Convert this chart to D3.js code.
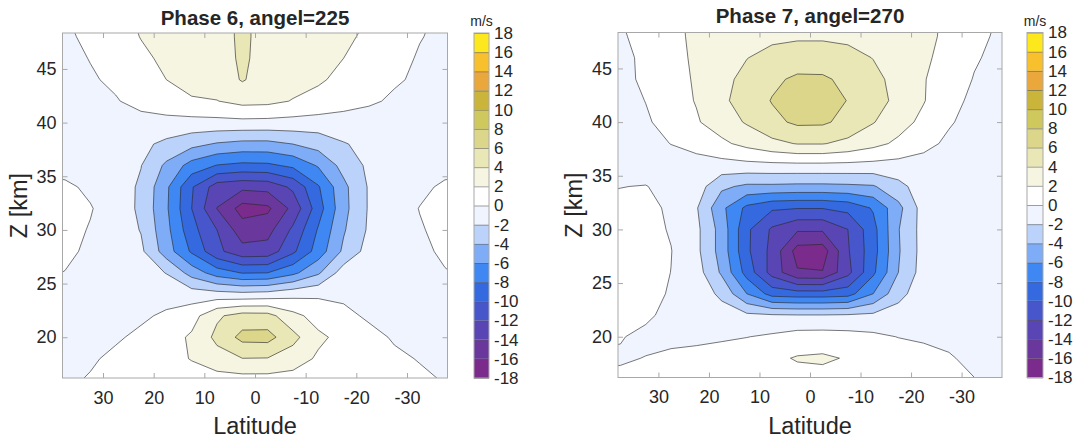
<!DOCTYPE html>
<html><head><meta charset="utf-8">
<script src="https://cdn.jsdelivr.net/npm/d3@7"></script>
<style>
body{margin:0;background:#fff;}
svg{display:block;}
text{font-family:"Liberation Sans",Arial,Helvetica,sans-serif;fill:#262626;}
</style>
</head><body>
<svg id="chart" width="1076" height="442"></svg>
<script>
// ---------------- data ----------------
const latitudes = [42.5, 37.5, 32.5, 27.5, 22.5, 17.5, 12.5, 7.5, 2.5, -2.5, -7.5, -12.5, -17.5, -22.5, -27.5, -32.5, -37.5, -42.5];
const altitudes = [16, 18, 20, 22, 24, 26, 28, 30, 32, 34, 36, 38, 40, 42, 44, 46, 48, 50];
const levels = [-18, -16, -14, -12, -10, -8, -6, -4, -2, 0, 2, 4, 6, 8, 10, 12, 14, 16, 18];
const bandColors = ["#7a2b8b", "#6a389d", "#5946b4", "#4756cb", "#3469e0", "#3f88f3", "#7eacf6", "#bbd2fa", "#eff4fe",
                    "#ffffff", "#f6f5e2", "#e9e7b6", "#dbd68a", "#cfc85c", "#cbb43a", "#eaa83c", "#f8c02c", "#fde81e"];
const latTicks = [30, 20, 10, 0, -10, -20, -30];
const zTicks = [20, 25, 30, 35, 40, 45];
const titles = ["Phase 6, angel=225", "Phase 7, angel=270"];

// rows: altitude 16 -> 50 ; columns: latitude 42.5 -> -42.5  (m/s)
const phase6 = [
  [-0.7, -0.4, 0.2, 0.6, 0.85, 1.0, 1.1, 1.15, 1.2, 1.2, 1.15, 1.1, 1.0, 0.85, 0.6, 0.35, -0.1, -0.5],
  [-0.8, -0.7, -0.3, 0.5, 0.9, 1.3, 2.1, 3.2, 3.95, 3.9, 3.0, 1.7, 1.2, 0.8, 0.35, -0.1, -0.6, -0.8],
  [-0.8, -0.8, -0.7, -0.3, 0.5, 1.1, 2.3, 4.5, 6.6, 6.7, 4.6, 2.4, 1.4, 0.6, -0.2, -0.6, -0.8, -0.8],
  [-0.6, -0.7, -0.8, -0.8, -0.4, 0.4, 1.2, 3.7, 4.8, 4.7, 2.6, 1.2, 0.5, -0.3, -0.8, -0.8, -0.7, -0.6],
  [-0.6, -0.7, -0.8, -0.9, -1.0, -1.0, -1.0, -1.2, -1.4, -1.2, -0.6, -0.3, -0.4, -0.7, -0.8, -0.7, -0.6, -0.5],
  [0.3, -0.05, -0.7, -1.0, -1.3, -2.05, -4.8, -7.0, -8.1, -8.0, -6.5, -4.3, -1.0, -1.0, -1.0, -0.7, -0.1, 0.3],
  [0.6, 0.4, -0.35, -0.8, -1.6, -5.0, -8.3, -11.5, -13.3, -13.2, -10.4, -7.1, -3.6, -1.2, -0.8, -0.4, 0.3, 0.6],
  [0.7, 0.5, -0.1, -0.8, -2.1, -5.4, -9.3, -12.0, -15.1, -14.7, -11.6, -7.8, -4.2, -1.7, -0.8, -0.15, 0.5, 0.7],
  [0.7, 0.6, 0.1, -0.8, -2.4, -5.7, -10.0, -14.05, -16.8, -16.4, -13.4, -8.9, -4.6, -1.8, -0.9, 0.05, 0.6, 0.7],
  [0.5, 0.3, -0.3, -1.0, -2.3, -5.6, -9.8, -13.0, -13.5, -13.3, -11.6, -8.2, -4.5, -1.8, -0.9, -0.4, 0.3, 0.5],
  [-0.5, -0.6, -0.8, -1.2, -1.95, -4.4, -6.8, -8.1, -8.5, -8.4, -7.6, -5.8, -3.3, -1.6, -1.1, -0.8, -0.6, -0.5],
  [-1.0, -1.0, -1.2, -1.3, -1.6, -2.4, -3.4, -4.2, -4.6, -4.6, -4.0, -3.2, -2.1, -1.6, -1.3, -1.2, -1.0, -1.0],
  [-1.5, -1.5, -1.5, -1.3, -1.0, -0.8, -0.7, -0.6, -0.55, -0.6, -0.7, -0.9, -1.1, -1.3, -1.4, -1.5, -1.5, -1.5],
  [-1.4, -1.3, -1.0, -0.2, 0.9, 1.5, 1.85, 1.95, 2.6, 2.5, 1.9, 1.5, 1.0, 0.4, -0.4, -1.0, -1.3, -1.4],
  [-1.3, -1.0, -0.3, 0.5, 1.3, 2.0, 2.5, 2.9, 4.15, 3.1, 2.7, 2.2, 1.6, 1.0, 0.3, -0.4, -0.9, -1.3],
  [-1.2, -0.8, 0.1, 1.0, 1.7, 2.3, 2.9, 3.3, 4.25, 3.4, 3.0, 2.5, 2.0, 1.4, 0.7, -0.2, -0.6, -1.2],
  [-1.0, -0.45, 0.55, 1.3, 2.05, 2.7, 3.0, 3.35, 4.3, 3.42, 3.1, 2.7, 2.3, 1.7, 1.0, 0.1, -0.5, -1.0],
  [-1.0, -0.1, 0.8, 1.6, 2.2, 2.8, 3.1, 3.35, 4.3, 3.42, 3.2, 2.9, 2.5, 2.0, 1.3, 0.5, -0.5, -1.2]
];
const phase7 = [
  [0.3, 0.4, 0.5, 0.7, 0.9, 1.0, 1.1, 1.2, 1.3, 1.3, 1.2, 1.0, 0.8, 0.6, 0.35, 0.05, -0.4, -0.6],
  [-0.3, -0.2, 0.05, 0.4, 0.7, 1.0, 1.3, 1.6, 2.15, 2.3, 1.85, 1.4, 1.0, 0.7, 0.15, -0.4, -0.6, -0.6],
  [0.5, 0.1, -0.4, -0.5, -0.5, -0.3, -0.05, 0.3, 0.8, 0.85, 0.7, 0.4, -0.05, -0.3, -0.4, -0.4, -0.4, -0.4],
  [0.6, 0.6, 0.3, -0.5, -0.8, -1.2, -1.6, -1.8, -1.9, -1.9, -1.8, -1.6, -1.2, -0.9, -0.7, -0.6, -0.6, -0.6],
  [0.9, 0.9, 0.7, -0.2, -0.9, -2.4, -6.0, -8.8, -9.1, -9.1, -8.8, -6.0, -2.6, -0.9, -0.6, -0.7, -0.8, -0.8],
  [0.9, 0.9, 0.8, -0.02, -1.1, -4.3, -8.8, -12.8, -15.8, -15.9, -12.6, -8.4, -4.0, -1.1, -0.7, -0.8, -0.9, -0.9],
  [0.9, 0.9, 0.8, 0.05, -1.5, -4.8, -9.6, -12.6, -16.8, -17.0, -12.2, -8.8, -4.2, -1.2, -0.7, -0.8, -0.9, -0.9],
  [0.8, 0.8, 0.6, -0.15, -1.5, -4.8, -9.6, -12.3, -13.7, -13.7, -12.0, -8.7, -4.1, -1.2, -0.7, -0.8, -0.9, -0.9],
  [0.6, 0.6, 0.5, -0.3, -1.8, -5.5, -8.5, -9.7, -9.9, -9.9, -9.4, -7.8, -4.6, -1.1, -0.8, -0.9, -1.0, -1.0],
  [-0.3, -0.05, 0.1, -0.9, -1.0, -3.6, -4.4, -4.4, -4.5, -4.5, -4.4, -4.2, -2.6, -1.0, -0.9, -0.8, -0.9, -1.0],
  [-1.2, -1.3, -1.4, -1.1, -0.9, -0.7, -0.55, -0.45, -0.4, -0.4, -0.45, -0.55, -0.65, -0.8, -1.0, -1.3, -1.5, -1.5],
  [-1.5, -1.3, -0.8, 0.05, 0.8, 1.6, 2.6, 3.5, 4.1, 4.1, 3.5, 2.6, 1.6, 0.6, -0.4, -1.0, -1.4, -1.5],
  [-1.4, -1.1, -0.3, 0.9, 1.8, 3.0, 4.2, 5.5, 6.35, 6.3, 5.4, 4.1, 2.8, 1.5, 0.2, -0.7, -1.1, -1.4],
  [-1.2, -0.9, 0.05, 1.2, 2.1, 3.6, 4.9, 6.1, 7.5, 7.4, 5.9, 4.8, 3.5, 2.1, 0.6, -0.4, -1.0, -1.2],
  [-1.1, -0.6, 0.4, 1.3, 2.2, 3.4, 4.6, 5.6, 6.35, 6.3, 5.5, 4.5, 3.4, 2.1, 1.1, -0.1, -0.7, -1.1],
  [-1.0, -0.5, 0.4, 1.2, 2.4, 3.0, 3.95, 4.6, 4.9, 4.9, 4.6, 3.95, 3.0, 2.4, 1.2, 0.2, -0.5, -1.0],
  [-0.9, -0.15, 0.4, 1.6, 2.3, 2.9, 3.3, 3.6, 3.75, 3.75, 3.6, 3.3, 2.9, 2.3, 1.75, 0.5, -0.3, -0.9],
  [-0.6, 0.0, 0.6, 1.7, 2.3, 2.5, 2.7, 2.8, 2.85, 2.85, 2.8, 2.7, 2.5, 2.3, 1.8, 0.7, -0.1, -0.6]
];

// ---------------- drawing ----------------
const svg = d3.select("#chart");
const panels = [
  {data: phase6, title: titles[0], x0: 62.5, x1: 447.5, y0: 33, y1: 378, cx0: 474, cx1: 489, titleY: 25},
  {data: phase7, title: titles[1], x0: 618, x1: 1002, y0: 32.5, y1: 377.5, cx0: 1027, cx1: 1043, titleY: 23}
];
const nx = latitudes.length, ny = altitudes.length;
const fmt = d => String(d);
const FONT = '"Liberation Sans",Arial,sans-serif';

function interpArr(arr, g) {
  const t = Math.max(0, Math.min(arr.length - 1, g - 0.5));
  const i = Math.min(Math.floor(t), arr.length - 2);
  const f = t - i;
  return arr[i] + f * (arr[i + 1] - arr[i]);
}

panels.forEach((p, pi) => {
  const xs = d3.scaleLinear().domain([38, -38]).range([p.x0, p.x1]);
  const ys = d3.scaleLinear().domain([16.2, 48.35]).range([p.y1, p.y0]);
  const g = svg.append("g");

  const clipId = "clip" + pi;
  svg.append("clipPath").attr("id", clipId).append("rect")
    .attr("x", p.x0).attr("y", p.y0).attr("width", p.x1 - p.x0).attr("height", p.y1 - p.y0);

  const values = [];
  p.data.forEach(row => row.forEach(v => values.push(v)));
  const contours = d3.contours().size([nx, ny]).thresholds(levels.slice(0, -1))(values);

  const proj = d3.geoTransform({
    point: function (x, y) {
      this.stream.point(xs(interpArr(latitudes, x)), ys(interpArr(altitudes, y)));
    }
  });
  const path = d3.geoPath(proj);

  const plot = g.append("g").attr("clip-path", `url(#${clipId})`);
  plot.append("rect").attr("x", p.x0).attr("y", p.y0).attr("width", p.x1 - p.x0).attr("height", p.y1 - p.y0)
    .attr("fill", bandColors[0]);
  plot.selectAll("path.fill").data(contours).join("path").attr("class", "fill")
    .attr("d", path)
    .attr("fill", d => bandColors[levels.indexOf(d.value)]);
  plot.selectAll("path.line").data(contours.filter(d => d.value > levels[0])).join("path").attr("class", "line")
    .attr("d", path)
    .attr("fill", "none").attr("stroke", "#2a2a2a").attr("stroke-width", 0.75).attr("stroke-opacity", 0.85)
    .attr("stroke-linejoin", "round");

  // axes
  const axisColor = "#a8a8a8";
  const styleAxis = (sel, fs) => {
    sel.select(".domain").remove();
    sel.selectAll(".tick line").attr("stroke", axisColor);
    sel.selectAll(".tick text").attr("fill", "#262626").style("font-size", fs + "px").style("font-family", FONT);
  };
  g.append("g").attr("transform", `translate(0,${p.y1})`)
    .call(d3.axisBottom(xs).tickValues(latTicks).tickSize(-5).tickPadding(13).tickFormat(fmt))
    .call(s => styleAxis(s, 18));
  g.append("g").attr("transform", `translate(0,${p.y0})`)
    .call(d3.axisTop(xs).tickValues(latTicks).tickSize(-5).tickFormat(""))
    .call(s => styleAxis(s, 18));
  g.append("g").attr("transform", `translate(${p.x0},0)`)
    .call(d3.axisLeft(ys).tickValues(zTicks).tickSize(-5).tickPadding(6).tickFormat(fmt))
    .call(s => styleAxis(s, 18));
  g.append("g").attr("transform", `translate(${p.x1},0)`)
    .call(d3.axisRight(ys).tickValues(zTicks).tickSize(-5).tickFormat(""))
    .call(s => styleAxis(s, 18));
  g.append("rect").attr("x", p.x0).attr("y", p.y0).attr("width", p.x1 - p.x0).attr("height", p.y1 - p.y0)
    .attr("fill", "none").attr("stroke", axisColor).attr("stroke-width", 1);

  // titles and labels
  g.append("text").attr("x", (p.x0 + p.x1) / 2).attr("y", p.titleY).attr("text-anchor", "middle")
    .style("font-size", "20.5px").style("font-weight", "bold").text(p.title);
  g.append("text").attr("x", (p.x0 + p.x1) / 2).attr("y", 434).attr("text-anchor", "middle")
    .style("font-size", "23.5px").text("Latitude");
  g.append("text").attr("transform", `translate(${p.x0 - 36},${(p.y0 + p.y1) / 2}) rotate(-90)`)
    .attr("text-anchor", "middle").style("font-size", "23.5px").text("Z [km]");

  // colorbar
  const cs = d3.scaleLinear().domain([-18, 18]).range([p.y1, p.y0]);
  const cb = g.append("g");
  cb.selectAll("rect.band").data(bandColors).join("rect").attr("class", "band")
    .attr("x", p.cx0).attr("width", p.cx1 - p.cx0)
    .attr("y", (c, i) => cs(levels[i + 1])).attr("height", (c, i) => cs(levels[i]) - cs(levels[i + 1]))
    .attr("fill", c => c);
  cb.append("g").attr("transform", `translate(${p.cx1},0)`)
    .call(d3.axisRight(cs).tickValues(levels).tickSize(-(p.cx1 - p.cx0)).tickPadding(5).tickFormat(fmt))
    .call(s => {
      s.select(".domain").remove();
      s.selectAll(".tick line").attr("stroke", "#555").attr("stroke-opacity", 0.55);
      s.selectAll(".tick text").attr("fill", "#262626").style("font-size", "17px").style("font-family", FONT);
    });
  cb.append("rect").attr("x", p.cx0).attr("y", p.y0).attr("width", p.cx1 - p.cx0).attr("height", p.y1 - p.y0)
    .attr("fill", "none").attr("stroke", axisColor);
  cb.append("text").attr("x", (p.cx0 + p.cx1) / 2).attr("y", 26).attr("text-anchor", "middle")
    .style("font-size", "14px").text("m/s");
});
</script>
</body></html>
